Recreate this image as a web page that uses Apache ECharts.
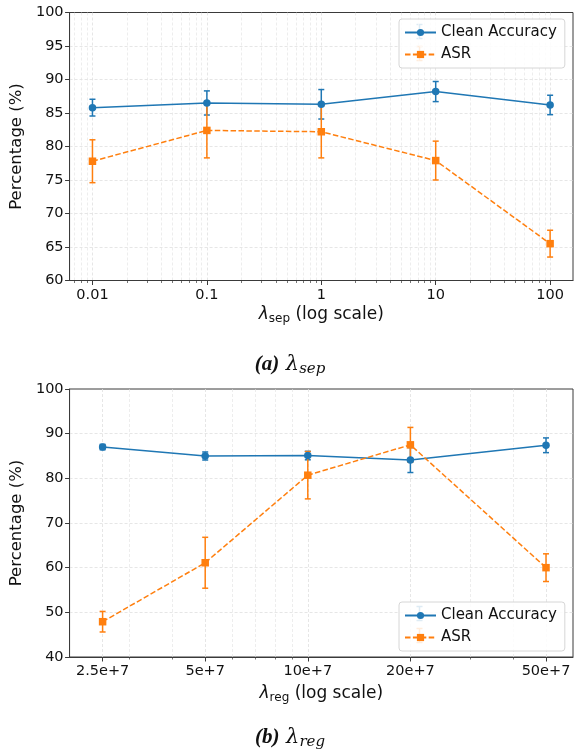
<!DOCTYPE html>
<html>
<head>
<meta charset="utf-8">
<script src="https://cdn.jsdelivr.net/npm/echarts@6/dist/echarts.min.js"></script>
<style>
  html, body { margin: 0; padding: 0; background: #fff; }
  #chart { width: 574px; height: 749px; }
</style>
</head>
<body>
<div id="chart"></div>
<script>
// (a) lambda_sep sweep
var sepLambda = [0.01, 0.1, 1, 10, 100];
var sepClean = [85.8, 86.5, 86.3, 88.2, 86.2];
var sepCleanErr = [1.25, 1.8, 2.2, 1.5, 1.45];
var sepAsr = [77.8, 82.4, 82.2, 77.9, 65.5];
var sepAsrErr = [3.2, 4.1, 3.9, 2.9, 2.0];
var sepTicks = [0.01, 0.1, 1, 10, 100];
var sepTickLabels = ["0.01", "0.1", "1", "10", "100"];
var sepMinorTicks = [
  0.007, 0.008, 0.009,
  0.02, 0.03, 0.04, 0.05, 0.06, 0.07, 0.08, 0.09,
  0.2, 0.3, 0.4, 0.5, 0.6, 0.7, 0.8, 0.9,
  2, 3, 4, 5, 6, 7, 8, 9,
  20, 30, 40, 50, 60, 70, 80, 90,
];

// (b) lambda_reg sweep
var regLambda = [2.5e7, 5e7, 1e8, 2e8, 5e8];
var regClean = [87.0, 85.0, 85.1, 84.1, 87.4];
var regCleanErr = [0.6, 0.9, 0.95, 2.8, 1.65];
var regAsr = [47.9, 61.1, 80.7, 87.5, 60.0];
var regAsrErr = [2.3, 5.7, 5.3, 3.9, 3.1];
var regTicks = [2.5e7, 5e7, 1e8, 2e8, 5e8];
var regTickLabels = ["2.5e+7", "5e+7", "10e+7", "20e+7", "50e+7"];
var regMinorTicks = [3e7, 4e7, 6e7, 7e7, 8e7, 9e7, 3e8, 4e8];

var BLUE = "#1f77b4";
var ORANGE = "#ff7f0e";
var FONT = "DejaVu Sans";
var SERIF = "Liberation Serif";
var AXIS = "#3a3a3a";
var GRIDC = "#e0e0e0";

var chart = echarts.init(document.getElementById("chart"));

function tickFormatter(ticks, labels) {
  return function (v) {
    for (var i = 0; i < ticks.length; i++) {
      if (Math.abs(Math.log10(v) - Math.log10(ticks[i])) < 1e-6) return labels[i];
    }
    return "";
  };
}

function xAxes(gridIndex, min, max, ticks, labels, minor, sub, nameGap) {
  var major = {
    type: "log",
    logBase: 10,
    gridIndex: gridIndex,
    position: "bottom",
    min: min,
    max: max,
    name: "{l|λ}{s|" + sub + "}{n| (log scale)}",
    nameLocation: "middle",
    nameGap: nameGap,
    nameTextStyle: {
      fontFamily: FONT,
      fontSize: 17,
      color: "#111",
      rich: {
        l: { fontFamily: FONT, fontSize: 17, fontStyle: "italic", color: "#111" },
        s: { fontFamily: FONT, fontSize: 12, color: "#111", padding: [8, 0, 0, 0] },
        n: { fontFamily: FONT, fontSize: 17, color: "#111" },
      },
    },
    axisLine: { show: true, onZero: false, lineStyle: { color: AXIS, width: 1 } },
    axisTick: { show: true, customValues: ticks, length: 4.5, lineStyle: { color: AXIS } },
    axisLabel: {
      customValues: ticks,
      formatter: tickFormatter(ticks, labels),
      fontFamily: FONT,
      fontSize: 14.5,
      color: "#111",
      margin: 7,
    },
    splitLine: { show: true, lineStyle: { color: GRIDC, type: [3, 2], width: 0.8 } },
  };
  var minorAxis = {
    type: "log",
    logBase: 10,
    gridIndex: gridIndex,
    position: "bottom",
    min: min,
    max: max,
    axisLine: { show: false, onZero: false },
    axisTick: { show: true, customValues: minor, length: 2.5, lineStyle: { color: AXIS, width: 0.7 } },
    axisLabel: { show: false },
    splitLine: { show: true, lineStyle: { color: GRIDC, type: [3, 2], width: 0.6 } },
  };
  return [major, minorAxis];
}

function yAxis(gridIndex, min, max, interval) {
  return {
    type: "value",
    gridIndex: gridIndex,
    min: min,
    max: max,
    interval: interval,
    name: "Percentage (%)",
    nameLocation: "middle",
    nameGap: 39,
    nameTextStyle: { fontFamily: FONT, fontSize: 16.5, color: "#111" },
    axisLine: { show: true, lineStyle: { color: AXIS, width: 1 } },
    axisTick: { show: true, length: 4.5, lineStyle: { color: AXIS } },
    axisLabel: { fontFamily: FONT, fontSize: 14.5, color: "#111", margin: 6 },
    splitLine: {
      show: true,
      showMinLine: false,
      showMaxLine: false,
      lineStyle: { color: GRIDC, type: [3, 2], width: 0.8 },
    },
  };
}

function errorBars(name, xIdx, yIdx, xs, ys, errs, color) {
  var data = xs.map(function (x, i) {
    return [x, ys[i] - errs[i], ys[i] + errs[i]];
  });
  return {
    name: name,
    type: "custom",
    xAxisIndex: xIdx,
    yAxisIndex: yIdx,
    data: data,
    encode: { x: 0, y: [1, 2] },
    silent: true,
    renderItem: function (params, api) {
      var lo = api.coord([api.value(0), api.value(1)]);
      var hi = api.coord([api.value(0), api.value(2)]);
      var cap = 3;
      var style = { stroke: color, lineWidth: 1.5 };
      return {
        type: "group",
        children: [
          { type: "line", shape: { x1: lo[0], y1: lo[1], x2: hi[0], y2: hi[1] }, style: style },
          { type: "line", shape: { x1: lo[0] - cap, y1: lo[1], x2: lo[0] + cap, y2: lo[1] }, style: style },
          { type: "line", shape: { x1: hi[0] - cap, y1: hi[1], x2: hi[0] + cap, y2: hi[1] }, style: style },
        ],
      };
    },
  };
}

function lineSeries(name, xIdx, yIdx, xs, ys, color, symbol, dashed) {
  return {
    name: name,
    type: "line",
    xAxisIndex: xIdx,
    yAxisIndex: yIdx,
    data: xs.map(function (x, i) { return [x, ys[i]]; }),
    symbol: symbol,
    symbolSize: 7.5,
    showSymbol: true,
    itemStyle: { color: color },
    lineStyle: { color: color, width: 1.5, type: dashed ? [5.5, 2.4] : "solid" },
    emphasis: { disabled: true },
  };
}

function legend(top) {
  return {
    orient: "vertical",
    left: 399,
    top: top,
    data: ["Clean Accuracy", "ASR"],
    itemWidth: 31,
    itemHeight: 9,
    itemGap: 7,
    itemTextGap: 11,
    padding: [6, 8, 6, 5],
    backgroundColor: "rgba(255,255,255,0.85)",
    borderColor: "#d6d6d6",
    borderWidth: 1,
    borderRadius: 3,
    textStyle: { fontFamily: FONT, fontSize: 15, color: "#111", lineHeight: 15 },
  };
}

// little error-bar glyph drawn over a legend icon
function legendBar(cy, color) {
  var x = 419.5, h = 7, c = 3;
  var style = { stroke: color, lineWidth: 1.5 };
  return {
    type: "group",
    z: 100,
    silent: true,
    children: [
      { type: "line", shape: { x1: x, y1: cy - h, x2: x, y2: cy + h }, style: style },
      { type: "line", shape: { x1: x - c, y1: cy - h, x2: x + c, y2: cy - h }, style: style },
      { type: "line", shape: { x1: x - c, y1: cy + h, x2: x + c, y2: cy + h }, style: style },
    ],
  };
}

var sepX = xAxes(0, Math.pow(10, -2.2), Math.pow(10, 2.2), sepTicks, sepTickLabels, sepMinorTicks, "sep", 24);
var regX = xAxes(1, 2e7, 6e8, regTicks, regTickLabels, regMinorTicks, "reg", 27);

function caption(letter, sub, y) {
  return {
    type: "text",
    x: 290,
    y: y,
    style: {
      text: "{a|(" + letter + ")}  {l|λ}{s|" + sub + "}",
      align: "center",
      verticalAlign: "middle",
      fill: "#111",
      rich: {
        a: { fontFamily: SERIF, fontSize: 21, fontWeight: "bold", fontStyle: "italic", fill: "#111" },
        l: { fontFamily: "DejaVu Serif", fontSize: 21, fontStyle: "italic", fill: "#111" },
        s: { fontFamily: "DejaVu Serif", fontSize: 15, fontStyle: "italic", fill: "#111", padding: [9, 0, 0, 0] },
      },
    },
  };
}

chart.setOption({
  animation: false,
  grid: [
    { left: 66, top: 12.5, width: 507, height: 268, show: true, borderColor: AXIS, borderWidth: 1, backgroundColor: "transparent" },
    { left: 66, top: 389, width: 507, height: 268, show: true, borderColor: AXIS, borderWidth: 1, backgroundColor: "transparent" },
  ],
  xAxis: [sepX[0], sepX[1], regX[0], regX[1]],
  yAxis: [yAxis(0, 60, 100, 5), yAxis(1, 40, 100, 10)],
  legend: [legend(19), legend(602)],
  series: [
    errorBars("Clean Accuracy err a", 0, 0, sepLambda, sepClean, sepCleanErr, BLUE),
    lineSeries("Clean Accuracy", 0, 0, sepLambda, sepClean, BLUE, "circle", false),
    errorBars("ASR err a", 0, 0, sepLambda, sepAsr, sepAsrErr, ORANGE),
    lineSeries("ASR", 0, 0, sepLambda, sepAsr, ORANGE, "rect", true),
    errorBars("Clean Accuracy err b", 2, 1, regLambda, regClean, regCleanErr, BLUE),
    lineSeries("Clean Accuracy", 2, 1, regLambda, regClean, BLUE, "circle", false),
    errorBars("ASR err b", 2, 1, regLambda, regAsr, regAsrErr, ORANGE),
    lineSeries("ASR", 2, 1, regLambda, regAsr, ORANGE, "rect", true),
  ],
  graphic: [
    caption("a", "sep", 365),
    caption("b", "reg", 738),
    legendBar(31.5, BLUE),
    legendBar(53.5, ORANGE),
    legendBar(613.5, BLUE),
    legendBar(635.5, ORANGE),
  ],
});
</script>
</body>
</html>
